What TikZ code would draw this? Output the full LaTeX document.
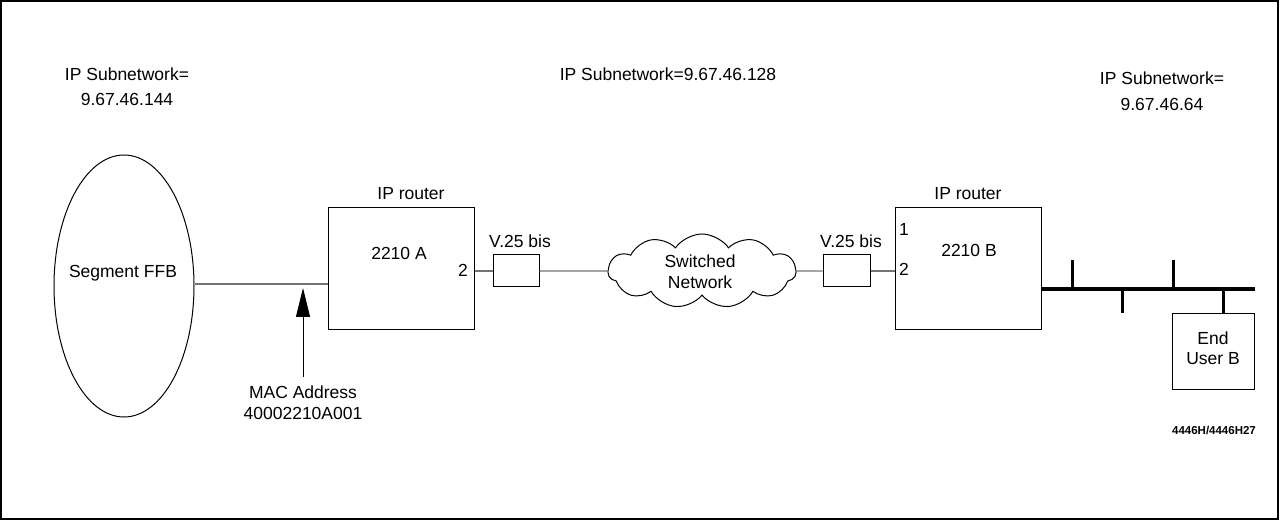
\documentclass[tikz,border=0pt]{standalone}
\usepackage{fontspec}
\setmainfont{Liberation Sans}
\usetikzlibrary{shapes.symbols,shapes.geometric,arrows.meta}
\begin{document}
\begin{tikzpicture}[x=1pt,y=-1pt,
  every node/.style={font=\fontsize{17.5}{21}\selectfont},
  lbl/.style={inner sep=0pt, align=center},
  box/.style={draw, line width=1pt, inner sep=0pt},
  link/.style={draw=black!55, line width=1.3pt},
  bus/.style={line width=4.5pt},
  stub/.style={line width=3pt}]
\useasboundingbox (0,0) rectangle (1280,521);
\draw[line width=1.5pt] (1,1) rectangle (1278,519);
% subnet labels
\node[lbl, font=\fontsize{17.5}{25}\selectfont] (snl) at (127,87) {IP Subnetwork=\\9.67.46.144};
\node[lbl] (snm) at (668,74) {IP Subnetwork=9.67.46.128};
\node[lbl, font=\fontsize{17.5}{26}\selectfont] (snr) at (1162,91) {IP Subnetwork=\\9.67.46.64};
% segment
\node[draw, ellipse, line width=1pt, minimum width=140, minimum height=262, inner sep=0pt] (ell) at (124,286) {};
\node[lbl] (seg) at (123,273) {Segment FFB};
% router A
\node[box, minimum width=146, minimum height=122] (ra) at (401.5,269) {};
\node[lbl] (raT) at (411,194) {IP router};
\node[lbl] (raN) at (399,253) {2210 A};
\node[lbl] (raP) at (463,270) {2};
% modem A
\node[box, minimum width=46, minimum height=32] (ma) at (516,271) {};
\node[lbl] (maT) at (520,241) {V.25 bis};
% cloud
\node[draw, cloud, cloud puffs=11, cloud puff arc=110, cloud ignores aspect, line width=1pt,
      minimum width=188, minimum height=74, inner sep=0pt, lbl] (cl) at (702,271) {};
\node[lbl] (clT) at (700,272) {Switched\\Network};
% modem B
\node[box, minimum width=47, minimum height=32] (mb) at (846.5,271) {};
\node[lbl] (mbT) at (851,241) {V.25 bis};
% router B
\node[box, minimum width=146, minimum height=122] (rb) at (968,269) {};
\node[lbl] (rbT) at (968,194) {IP router};
\node[lbl] (rbN) at (969,250) {2210 B};
\node[lbl] (rbP1) at (904,229) {1};
\node[lbl] (rbP2) at (904,269) {2};
% end user
\node[box, minimum width=82, minimum height=75] (eu) at (1213,351.5) {};
\node[lbl, font=\fontsize{17.5}{20}\selectfont] (euT) at (1213,348) {End\\User B};
% MAC
\node[lbl] (mac) at (303,403) {MAC Address\\40002210A001};
\node[lbl, font=\bfseries\fontsize{11.5}{14}\selectfont] (fig) at (1214,430) {4446H/4446H27};
% connectors
\draw[link] (ell.east |- 0,284) coordinate (segR) -- (segR -| ra.west) coordinate (macpt);
\draw[link] (ma.west) -- (ma.west -| ra.east);
\draw[link] (ma.east) -- (cl.west);
\draw[link] (cl.east) -- (mb.west);
\draw[link] (mb.east) -- (mb.east -| rb.west);
\draw[line width=0.9pt, -{Triangle[width=14pt,length=29pt]}] (mac.north) ++(0,-9) -- (303,288);
% bus
\coordinate (busL) at (rb.east |- 0,289);
\coordinate (busR) at (1255,289);
\draw[bus] (busL) -- (busR);
\draw[stub] (1072,289) -- (1072,260);
\draw[stub] (1173,289) -- (1173,260);
\draw[stub] (1122,289) -- (1122,313);
\draw[stub] (1223,289) -- (eu.north -| 1223,0);
\end{tikzpicture}
\end{document}
